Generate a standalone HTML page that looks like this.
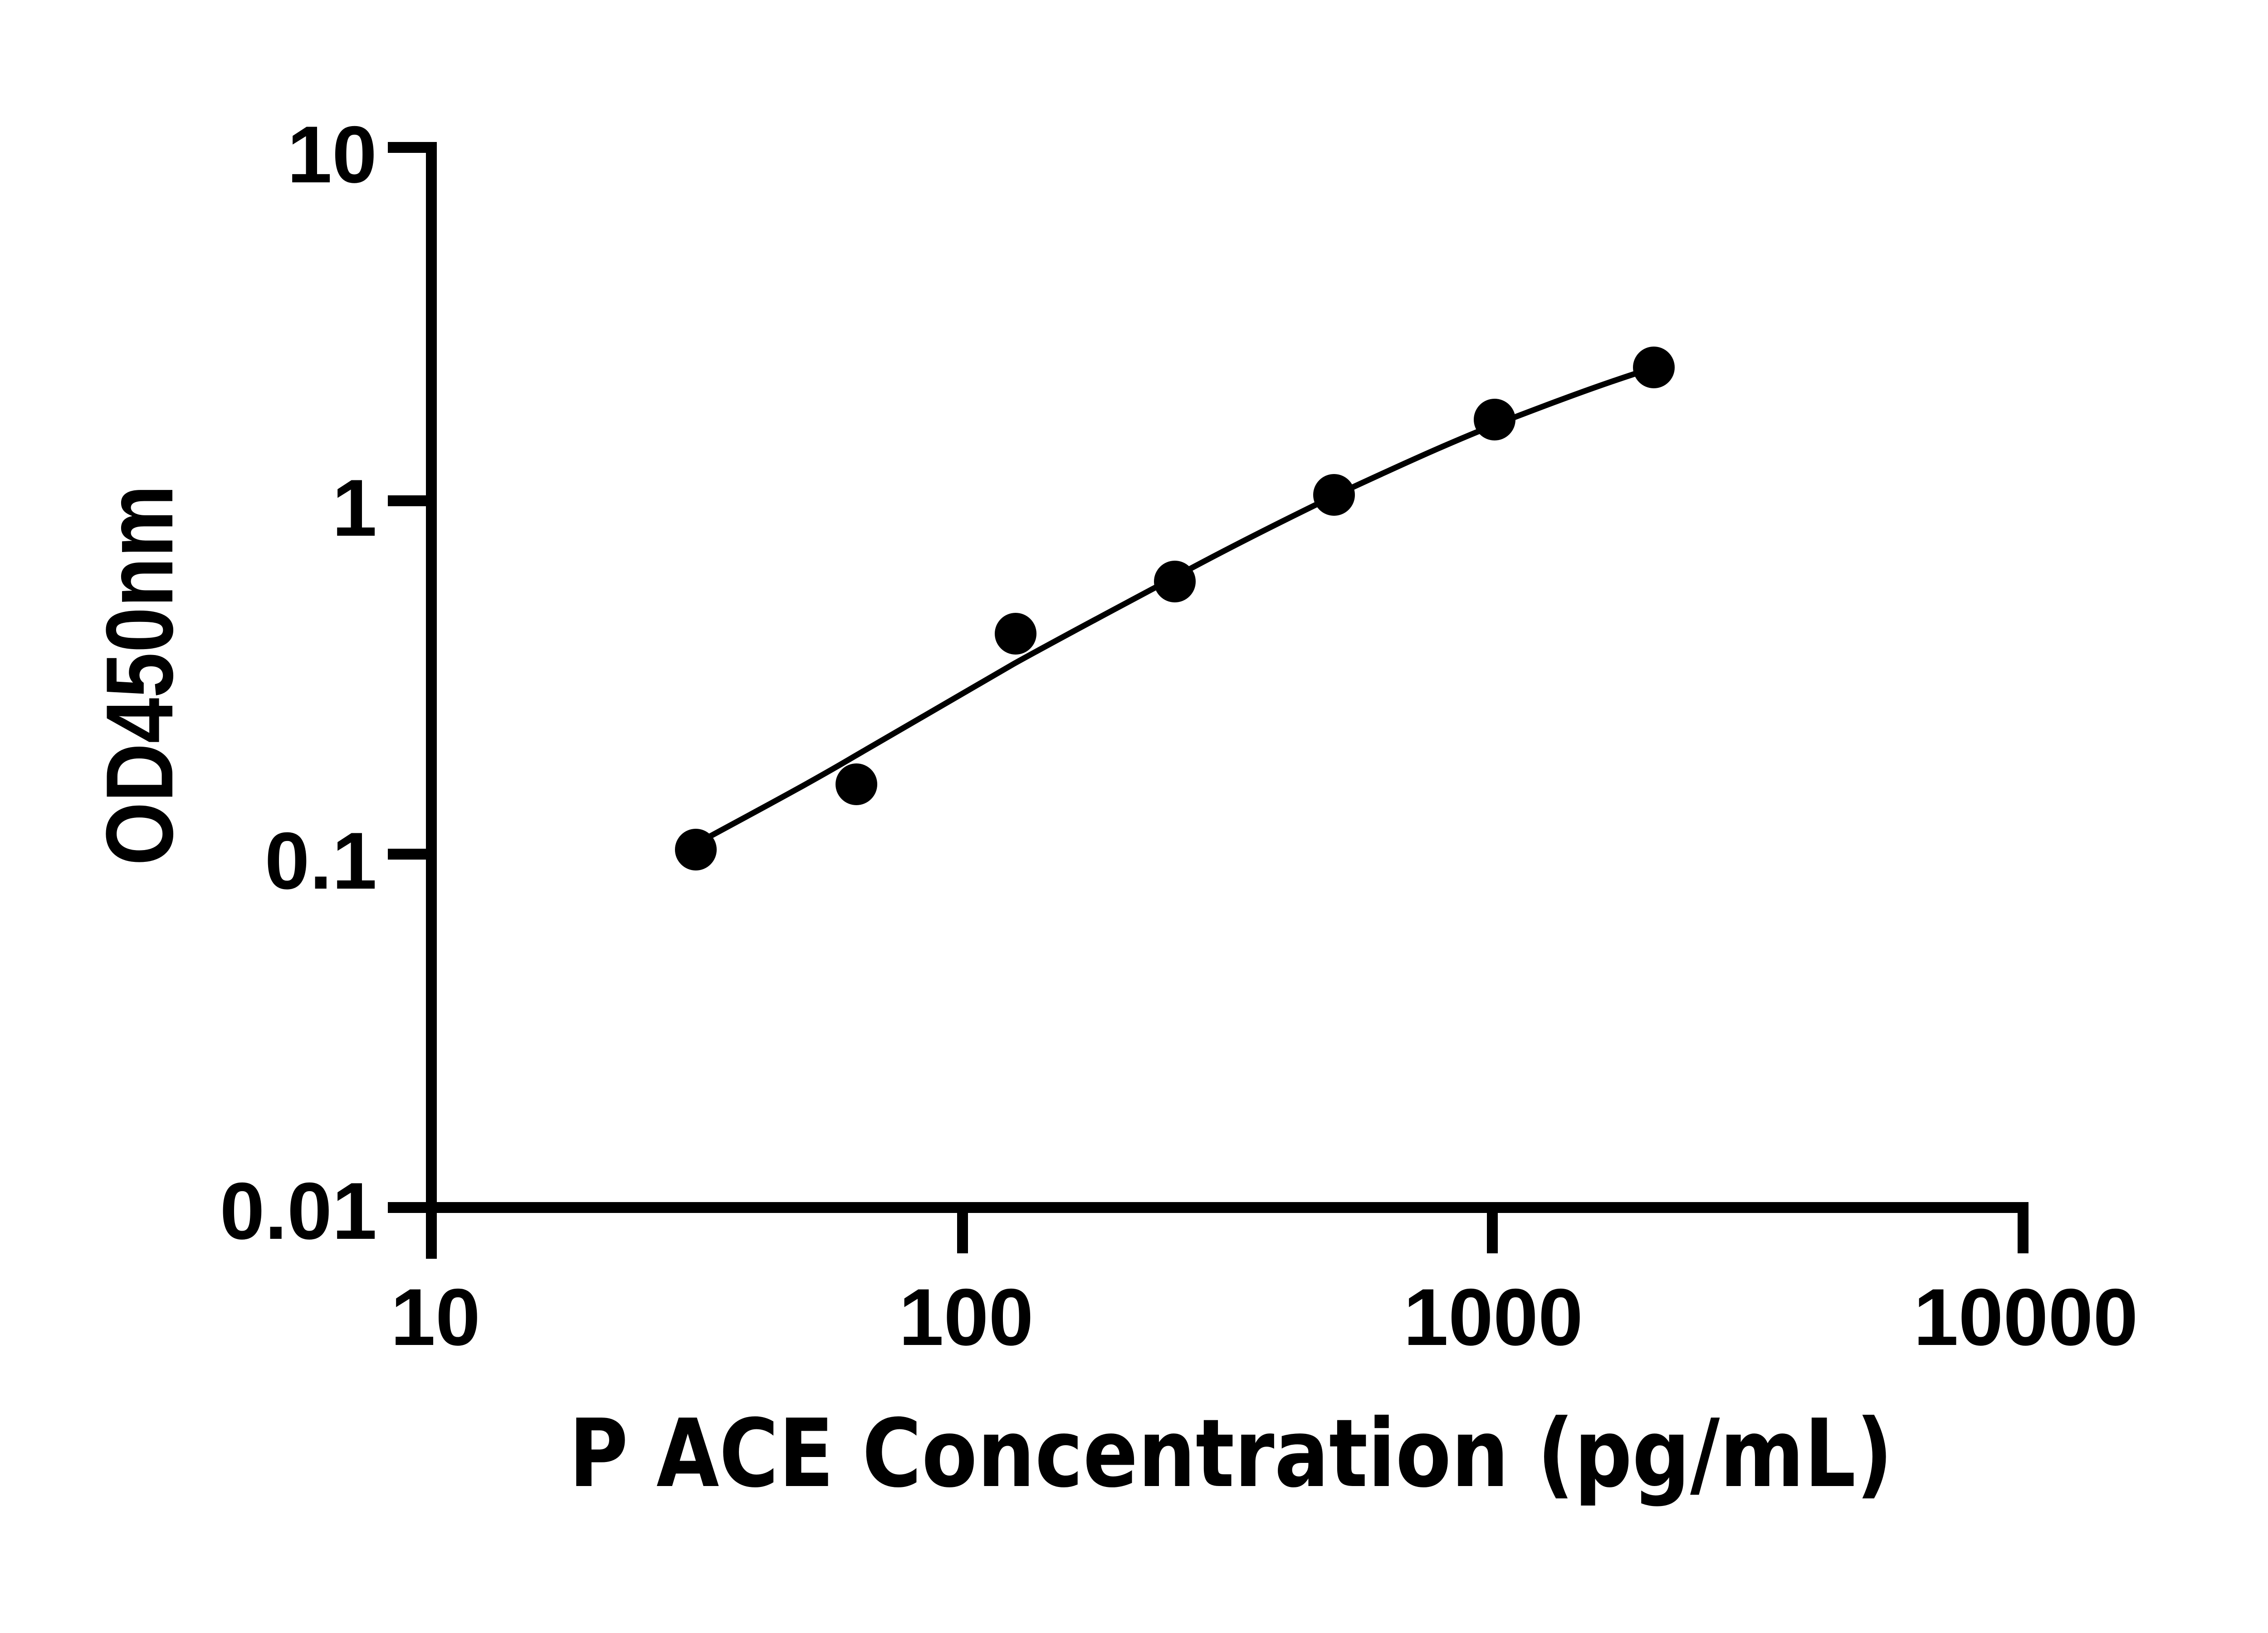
<!DOCTYPE html>
<html><head><meta charset="utf-8"><style>html,body{margin:0;padding:0;background:#fff}svg{display:block}</style></head>
<body>
<svg width="5130" height="3600" viewBox="0 0 5130 3600" xmlns="http://www.w3.org/2000/svg">
<rect width="5130" height="3600" fill="#fff"/>
<g stroke="#000" stroke-width="24" fill="none" stroke-linecap="butt">
<path d="M951 313 V2775"/>
<path d="M855 2662 H4472"/>
<path d="M855 325 H963"/>
<path d="M855 1104 H951"/>
<path d="M855 1883 H951"/>
<path d="M951 2662 V2763"/>
<path d="M2122 2662 V2763"/>
<path d="M3290 2662 V2763"/>
<path d="M4460 2650 V2763"/>
</g>
<g transform="matrix(0.97583 0 0 0.97375 -3.36 -2.18)">
<path d="M1572 1915 C1700 1845 1820 1782 1933 1715 C2060 1642 2180 1572 2294 1505 C2420 1435 2540 1372 2655 1310 C2780 1242 2900 1182 3017 1125 C3140 1068 3260 1012 3378 965 C3500 918 3620 872 3739 835" stroke="#000" stroke-width="13" fill="none"/>
</g>
<g fill="#000">
<circle cx="1534" cy="1873" r="46"/>
<circle cx="1888" cy="1729" r="46"/>
<circle cx="2239" cy="1397" r="46"/>
<circle cx="2590" cy="1282" r="46"/>
<circle cx="2941" cy="1091" r="46"/>
<circle cx="3295" cy="925" r="46"/>
<circle cx="3646" cy="810" r="46"/>
</g>
<g font-family="'Liberation Sans', Arial, sans-serif" font-weight="bold" font-size="178" fill="#000">
<text x="831" y="402" text-anchor="end">10</text>
<text x="831" y="1181" text-anchor="end">1</text>
<text x="831" y="1959" text-anchor="end">0.1</text>
<text x="831" y="2731" text-anchor="end">0.01</text>
<text x="960" y="2965" text-anchor="middle">10</text>
<text x="2130" y="2965" text-anchor="middle">100</text>
<text x="3292" y="2965" text-anchor="middle">1000</text>
<text x="4466" y="2965" text-anchor="middle">10000</text>
</g>
<text x="1254" y="3276" font-family="'DejaVu Sans', 'Liberation Sans', sans-serif" font-weight="bold" font-size="207" textLength="2919" lengthAdjust="spacingAndGlyphs" fill="#000">P ACE Concentration (pg/mL)</text>
<text transform="translate(380,1908) rotate(-90)" x="0" y="0" font-family="'Liberation Sans', Arial, sans-serif" font-weight="bold" font-size="210" textLength="839" lengthAdjust="spacingAndGlyphs" fill="#000">OD450nm</text>
</svg>
</body></html>
